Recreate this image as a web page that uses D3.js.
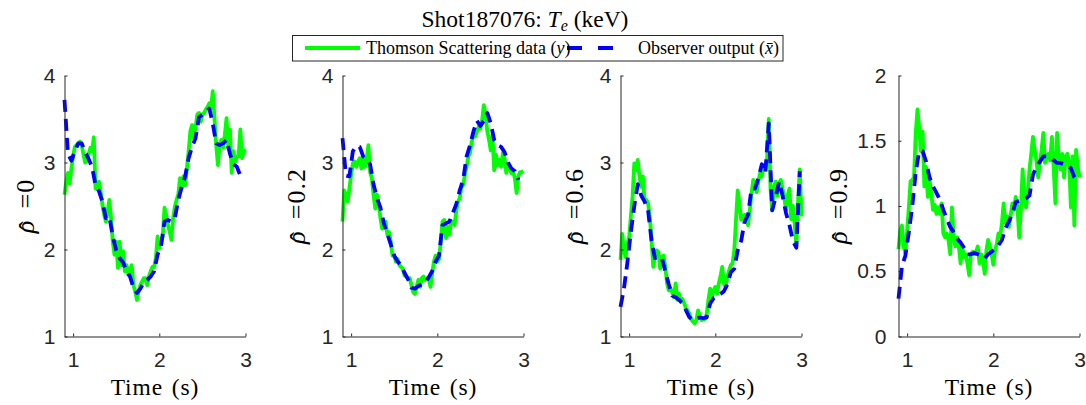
<!DOCTYPE html>
<html>
<head>
<meta charset="utf-8">
<script src="https://cdn.jsdelivr.net/npm/d3@7/dist/d3.min.js"></script>
<style>
  html, body { margin: 0; padding: 0; background: #fff; }
  svg { display: block; }
</style>
</head>
<body>
<svg id="chart" width="1086" height="405"></svg>
<script>
// ---------------- data ----------------
const titleMain = "Shot187076: ";
const legendLabels = ["Thomson Scattering data (", "Observer output ("];
const rhoLabels = ["0", "0.2", "0.6", "0.9"];
const xTicks = [1, 2, 3];
const yTicksA = [1, 2, 3, 4];
const yTicksB = [0, 0.5, 1, 1.5, 2];
const yTickLabelsB = ["0", "0.5", "1", "1.5", "2"];

// Thomson scattering sample times (s)
const timesTS = [0.90,0.92,0.94,0.96,0.98,1.00,1.02,1.04,1.06,1.08,1.10,1.12,1.14,1.16,1.18,1.20,1.22,1.24,1.26,1.28,
  1.30,1.32,1.34,1.36,1.38,1.40,1.42,1.44,1.46,1.48,1.50,1.52,1.54,1.56,1.58,1.60,1.62,1.64,1.66,1.68,
  1.70,1.72,1.74,1.76,1.78,1.80,1.82,1.84,1.86,1.88,1.90,1.92,1.94,1.96,1.98,2.00,2.02,2.04,2.06,2.08,
  2.10,2.12,2.14,2.16,2.18,2.20,2.22,2.24,2.26,2.28,2.30,2.32,2.34,2.36,2.38,2.40,2.42,2.44,2.46,2.48,
  2.50,2.52,2.54,2.56,2.58,2.60,2.62,2.64,2.66,2.68,2.70,2.72,2.74,2.76,2.78,2.80,2.82,2.84,2.86,2.88,
  2.90,2.92,2.94,2.96,2.98,3.00];
// observer output times (s)
const timesObs = [0.90,0.94,0.98,1.02,1.06,1.10,1.14,1.18,1.22,1.26,1.30,1.34,1.38,1.42,1.46,1.50,1.54,1.58,1.62,1.66,
  1.70,1.74,1.78,1.82,1.86,1.90,1.94,1.98,2.02,2.06,2.10,2.14,2.18,2.22,2.26,2.30,2.34,2.38,2.42,2.46,
  2.50,2.54,2.58,2.62,2.66,2.70,2.74,2.78,2.82,2.86,2.90,2.94,2.98];

// Thomson scattering data y (keV)
const tsRho0 = [2.63,2.78,2.88,2.76,2.93,3.07,3.18,3.20,3.22,3.24,3.20,3.09,3.00,3.01,3.09,3.17,3.13,3.29,2.70,2.74,
  2.78,2.67,2.51,2.40,2.32,2.44,2.57,2.36,2.09,1.94,2.09,1.79,2.09,1.82,1.98,1.75,1.82,1.71,1.77,1.82,
  1.59,1.52,1.42,1.52,1.59,1.63,1.67,1.67,1.59,1.69,1.75,1.80,1.80,1.90,2.15,2.02,2.09,2.15,2.48,2.40,
  2.28,2.21,2.11,2.36,2.49,2.57,2.63,2.82,2.70,2.84,2.74,2.93,3.13,3.36,3.43,3.28,3.40,3.55,3.57,3.47,
  3.55,3.57,3.61,3.64,3.68,3.62,3.82,3.51,3.20,2.97,3.20,3.26,3.17,3.32,3.51,3.17,3.38,2.88,3.13,3.01,
  3.07,3.07,3.38,3.05,3.13,3.15];
const tsRho02 = [2.32,2.68,2.63,2.55,2.70,2.86,2.99,3.01,2.95,3.01,3.05,2.93,3.07,2.95,3.03,3.20,2.89,2.82,2.63,2.47,
  2.63,2.53,2.36,2.24,2.30,2.32,2.17,2.20,2.09,1.93,1.93,1.86,1.89,1.82,1.80,1.78,1.70,1.69,1.67,1.67,
  1.59,1.51,1.49,1.57,1.65,1.57,1.67,1.69,1.65,1.67,1.67,1.57,1.72,1.86,1.93,1.86,1.89,2.09,2.32,2.34,
  2.13,2.26,2.17,2.32,2.32,2.28,2.44,2.55,2.59,2.72,2.74,2.86,2.95,3.07,3.11,3.24,3.32,3.30,3.36,3.41,
  3.39,3.49,3.66,3.55,3.36,3.26,3.14,3.32,2.91,3.09,2.97,3.03,2.95,3.11,3.05,2.88,2.97,2.93,2.88,2.89,
  2.82,2.65,2.84,2.89,2.89,2.90];
const tsRho06 = [1.88,2.18,1.99,1.91,2.07,2.14,2.38,2.61,2.99,2.91,3.03,2.84,2.72,2.84,2.55,2.57,2.53,2.38,2.11,1.80,
  1.92,1.99,1.97,1.78,1.92,1.93,1.80,1.61,1.53,1.55,1.51,1.45,1.61,1.42,1.49,1.40,1.43,1.38,1.32,1.30,
  1.26,1.20,1.17,1.15,1.19,1.30,1.24,1.19,1.20,1.20,1.26,1.42,1.55,1.45,1.53,1.57,1.49,1.61,1.69,1.80,
  1.61,1.57,1.69,1.76,1.82,1.84,1.99,2.34,2.68,2.53,2.34,2.38,2.40,2.34,2.28,2.45,2.64,2.80,2.76,2.66,
  2.78,2.88,2.84,2.97,2.91,3.03,3.50,2.70,2.45,2.72,2.78,2.62,2.76,2.80,2.70,2.60,2.45,2.62,2.70,2.35,
  2.50,2.30,2.05,2.55,2.92,2.38];
const tsRho09 = [0.67,0.81,0.85,0.69,0.64,0.81,0.99,1.19,1.20,1.22,1.56,1.74,1.60,1.42,1.57,1.15,1.30,1.07,1.20,1.10,
  0.97,1.01,0.94,0.99,0.94,1.02,0.79,0.76,0.79,0.74,0.63,0.99,0.76,0.69,0.76,0.69,0.56,0.69,0.61,0.63,
  0.56,0.47,0.63,0.65,0.63,0.65,0.69,0.56,0.63,0.58,0.48,0.66,0.74,0.69,0.63,0.55,0.66,0.71,0.79,0.76,
  0.87,1.02,0.87,0.92,0.84,0.92,1.02,0.97,1.07,0.99,0.76,0.97,1.28,1.05,0.99,1.10,1.28,1.40,1.53,1.43,
  1.35,1.22,1.33,1.43,1.56,1.33,1.38,1.40,1.35,1.53,1.30,1.02,1.56,1.38,1.28,1.40,1.22,1.38,1.40,1.33,
  0.99,1.38,0.85,1.43,1.30,1.22];

// Observer output x-bar (keV)
const obsRho0 = [3.72,3.10,3.02,3.13,3.22,3.22,3.12,3.04,2.95,2.74,2.67,2.55,2.36,2.38,2.15,1.99,1.90,1.85,1.75,1.69,
  1.56,1.50,1.55,1.62,1.65,1.69,1.75,1.94,2.04,2.32,2.34,2.32,2.36,2.57,2.72,2.84,3.05,3.18,3.28,3.52,
  3.55,3.58,3.62,3.45,3.22,3.20,3.22,3.26,3.10,2.98,2.95,2.85];
const obsRho02 = [3.28,2.85,2.84,3.13,3.19,3.18,3.07,3.04,2.98,2.75,2.59,2.48,2.30,2.18,2.06,1.93,1.86,1.82,1.73,1.66,
  1.56,1.55,1.58,1.60,1.62,1.68,1.75,1.86,1.93,2.28,2.30,2.32,2.42,2.52,2.68,2.80,3.07,3.20,3.36,3.48,
  3.42,3.48,3.57,3.45,3.26,3.20,3.18,3.12,3.00,2.93,2.90,2.80];
const obsRho06 = [1.34,1.55,1.85,2.20,2.50,2.75,2.62,2.55,2.45,2.10,1.90,1.92,1.90,1.75,1.60,1.47,1.45,1.42,1.38,1.30,
  1.22,1.19,1.20,1.22,1.21,1.22,1.38,1.44,1.46,1.49,1.52,1.60,1.74,1.78,1.99,2.10,2.32,2.40,2.70,2.70,
  2.82,2.98,2.88,3.45,2.45,2.60,2.78,2.62,2.42,2.28,2.10,2.02,2.90];
const obsRho09 = [0.29,0.54,0.62,0.80,1.00,1.26,1.42,1.42,1.34,1.22,1.15,1.10,1.05,0.97,0.90,0.84,0.80,0.75,0.72,0.68,
  0.63,0.63,0.64,0.63,0.62,0.60,0.63,0.65,0.67,0.70,0.74,0.83,0.88,0.94,1.03,1.04,1.05,1.06,1.08,1.24,
  1.30,1.34,1.38,1.38,1.37,1.35,1.33,1.33,1.32,1.31,1.29,1.22,1.19];

// ---------------- layout ----------------
const svg = d3.select("#chart");
const serif = "'Liberation Serif', 'Times New Roman', serif";
const sans = "'Liberation Sans', Arial, Helvetica, sans-serif";
const axisColor = "#262626";
const greenC = "#00ff00", blueC = "#0000ff";

const panels = [
  { left: 64.5,  ts: tsRho0,  obs: obsRho0,  rho: rhoLabels[0], yDom: [1, 4], yTicks: yTicksA, yLab: yTicksA.map(String), labX: 25,  pad: 9 },
  { left: 342.5, ts: tsRho02, obs: obsRho02, rho: rhoLabels[1], yDom: [1, 4], yTicks: yTicksA, yLab: yTicksA.map(String), labX: 296, pad: 9 },
  { left: 620.5, ts: tsRho06, obs: obsRho06, rho: rhoLabels[2], yDom: [1, 4], yTicks: yTicksA, yLab: yTicksA.map(String), labX: 574, pad: 9 },
  { left: 898.5, ts: tsRho09, obs: obsRho09, rho: rhoLabels[3], yDom: [0, 2], yTicks: yTicksB, yLab: yTickLabelsB, labX: 838, pad: 12 }
];
const pw = 181, plotTop = 75.5, plotBottom = 336.5;

panels.forEach(p => {
  const x = d3.scaleLinear().domain([0.9, 3]).range([p.left, p.left + pw]);
  const y = d3.scaleLinear().domain(p.yDom).range([plotBottom, plotTop]);
  const g = svg.append("g");

  const lineTS = d3.line().x((d, i) => x(timesTS[i])).y(d => y(d));
  const obsT = timesObs.slice(0, p.obs.length);
  const lineObs = d3.line().x((d, i) => x(obsT[i])).y(d => y(d));

  g.append("path").datum(p.ts).attr("d", lineTS)
    .attr("fill", "none").attr("stroke", greenC).attr("stroke-width", 3.8)
    .attr("stroke-linejoin", "round");
  g.append("path").datum(p.obs).attr("d", lineObs)
    .attr("fill", "none").attr("stroke", blueC).attr("stroke-width", 3.8)
    .attr("stroke-dasharray", "12,7").attr("stroke-linejoin", "round");

  // axes (MATLAB-style inward ticks, box off)
  const ya = d3.axisLeft(y).tickValues(p.yTicks).tickFormat((d, i) => p.yLab[i])
    .tickSizeInner(-3).tickSizeOuter(0).tickPadding(p.pad);
  const yg = g.append("g").attr("transform", `translate(${p.left},0)`).call(ya);
  const xa = d3.axisBottom(x).tickValues(xTicks).tickFormat(d3.format("d"))
    .tickSizeInner(-3).tickSizeOuter(0).tickPadding(15.5);
  const xg = g.append("g").attr("transform", `translate(0,${plotBottom})`).call(xa);
  [yg, xg].forEach(a => {
    a.selectAll("path.domain").attr("stroke", axisColor).attr("stroke-width", 1);
    a.selectAll(".tick line").attr("stroke", axisColor).attr("stroke-width", 1);
    a.selectAll(".tick text").attr("fill", axisColor).attr("font-family", sans).attr("font-size", 21);
  });

  // x label
  g.append("text").attr("x", p.left + pw / 2).attr("y", 395)
    .attr("text-anchor", "middle").attr("font-family", serif).attr("font-size", 23.5)
    .attr("letter-spacing", 0.9).attr("word-spacing", 2)
    .text("Time (s)");

  // y label: rho-hat = value
  const yl = g.append("text")
    .attr("transform", `translate(${p.labX},${(plotTop + plotBottom) / 2}) rotate(-90)`)
    .attr("text-anchor", "middle").attr("dominant-baseline", "central")
    .attr("font-family", serif).attr("font-size", 26);
  yl.append("tspan").attr("font-style", "italic").text("\u03C1");
  yl.append("tspan").attr("dx", "-0.36em").attr("dy", "0.12em").text("\u02C6");
  yl.append("tspan").attr("dx", "0.5em").attr("dy", "-0.12em").attr("letter-spacing", 1).text("=" + p.rho);
});

// title
const title = svg.append("text").attr("x", 525).attr("y", 27)
  .attr("text-anchor", "middle").attr("font-family", serif).attr("font-size", 23.5);
title.append("tspan").text(titleMain);
title.append("tspan").attr("font-style", "italic").text("T");
title.append("tspan").attr("font-style", "italic").attr("font-size", 16).attr("dy", 4).text("e");
title.append("tspan").attr("dy", -4).text("\u00A0(keV)");

// legend
const lg = svg.append("g");
lg.append("rect").attr("x", 292.5).attr("y", 35.5).attr("width", 490.5).attr("height", 25.5)
  .attr("fill", "#fff").attr("stroke", axisColor).attr("stroke-width", 1);
lg.append("line").attr("x1", 305).attr("x2", 360).attr("y1", 48).attr("y2", 48)
  .attr("stroke", greenC).attr("stroke-width", 3.8);
lg.append("line").attr("x1", 567).attr("x2", 613).attr("y1", 48).attr("y2", 48)
  .attr("stroke", blueC).attr("stroke-width", 3.8).attr("stroke-dasharray", "15,16");

function legendText(x0, label, mathChar, targetWidth) {
  const t = lg.append("text").attr("x", x0).attr("y", 54).attr("font-family", serif).attr("font-size", 18);
  t.append("tspan").text(label);
  t.append("tspan").attr("font-style", "italic").text(mathChar);
  t.append("tspan").text(")");
  // stretch letter spacing so the label spans the same width as in the reference
  const natural = t.node().getComputedTextLength();
  const nChars = (label + mathChar + ")").length;
  const ls = Math.max(0, (targetWidth - natural) / nChars);
  t.selectAll("tspan").attr("letter-spacing", ls);
  return t;
}
legendText(366, legendLabels[0], "y", 180);
legendText(638, legendLabels[1], "x\u0304", 139);
</script>
</body>
</html>
